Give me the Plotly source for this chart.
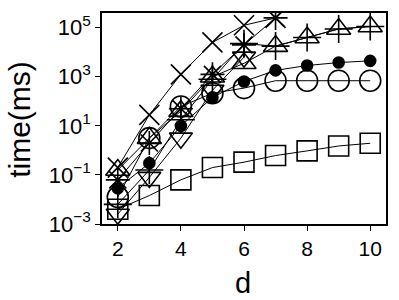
import plotly.graph_objects as go

d_all = [2, 3, 4, 5, 6, 7, 8, 9, 10]
d_short = [2, 3, 4, 5, 6, 7]
d_six = [2, 3, 4, 5, 6]

# log10(time in ms)
cross_log = [-0.7, 1.45, 3.1, 4.4, 5.1, 5.4]
asterisk_log = [-1.2, 0.3, 1.7, 3.1, 4.3, 5.4]
plus_log = [-2.2, -0.8, 1.25, 2.9, 4.35, 4.25, 4.6, 4.95, 5.05]
triup_log = [-0.8, 0.5, 1.6, 3.0, 3.55, 4.25, 4.6, 4.95, 5.05]
tridown_log = [-2.6, -1.1, 0.5, 2.45, 3.8]
circle_log = [-1.9, 0.5, 1.79, 2.33, 2.54, 2.84, 2.84, 2.84, 2.84]
dot_log = [-1.54, -0.52, 1.0, 2.16, 2.81, 3.26, 3.46, 3.58, 3.65]
square_log = [-2.4, -1.84, -1.2, -0.7, -0.48, -0.21, -0.02, 0.18, 0.29]

series = [
    ("square", d_all, square_log, "square-open", 20),
    ("circle", d_all, circle_log, "circle-open", 21),
    ("dot", d_all, dot_log, "circle", 11),
    ("tridown", d_six, tridown_log, "triangle-down-open", 20),
    ("triup", d_all, triup_log, "triangle-up-open", 21),
    ("plus", d_all, plus_log, "cross-thin-open", 20),
    ("asterisk", d_short, asterisk_log, "asterisk-open", 20),
    ("cross", d_short, cross_log, "x-thin-open", 20),
]

fig = go.Figure()
for name, xs, ls, sym, sz in series:
    fig.add_trace(go.Scatter(
        x=xs, y=[10 ** v for v in ls], mode="lines+markers", name=name,
        line=dict(color="black", width=1),
        marker=dict(symbol=sym, size=sz, color="black",
                    line=dict(color="black", width=1.6)),
        showlegend=False,
    ))

font = "Liberation Sans, Arial, Helvetica, sans-serif"
ytv = [1e-3, 1e-1, 1e1, 1e3, 1e5]
ytt = ["10<sup>\u22123</sup>", "10<sup>\u22121</sup>", "10<sup>1</sup>",
       "10<sup>3</sup>", "10<sup>5</sup>"]

fig.update_layout(
    width=399, height=300,
    margin=dict(l=102, r=13, t=13, b=76, autoexpand=False),
    paper_bgcolor="white", plot_bgcolor="white",
    font=dict(family=font, color="black", size=21),
    xaxis=dict(range=[1.5, 10.5], tickvals=[2, 4, 6, 8, 10], automargin=False,
               ticks="outside", ticklen=5, tickwidth=1, tickcolor="black",
               showline=True, linecolor="black", linewidth=1.5, mirror=True,
               showgrid=False, zeroline=False,
               tickfont=dict(size=21, family=font)),
    yaxis=dict(type="log", range=[-3, 5.6], tickvals=ytv, ticktext=ytt,
               automargin=False,
               ticks="outside", ticklen=5, tickwidth=1, tickcolor="black",
               showline=True, linecolor="black", linewidth=1.5, mirror=True,
               showgrid=False, zeroline=False,
               tickfont=dict(size=22, family=font)),
    annotations=[
        dict(text="time(ms)", xref="paper", yref="paper", x=-0.289, y=0.498,
             textangle=-90, showarrow=False, font=dict(size=30, family=font),
             xanchor="center", yanchor="middle"),
        dict(text="d", xref="paper", yref="paper", x=0.496, y=-0.28,
             showarrow=False, font=dict(size=29, family=font),
             xanchor="center", yanchor="middle"),
    ],
)

fig.write_html(
    "out.html",
    config={"displayModeBar": False},
    post_script="document.body.style.margin='0';document.body.style.overflow='hidden';",
)
